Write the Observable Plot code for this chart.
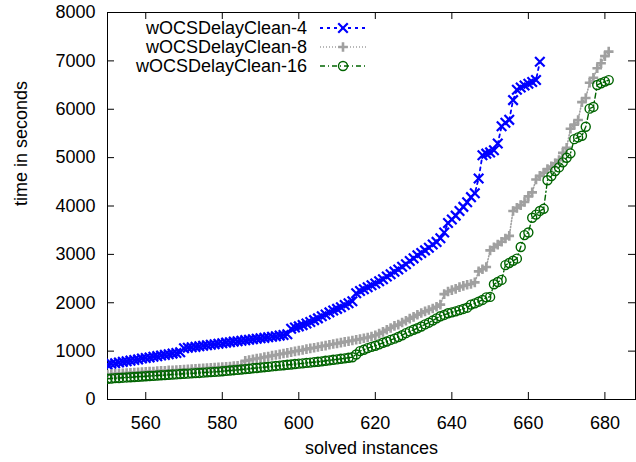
<!DOCTYPE html>
<html><head><meta charset="utf-8">
<script src="https://cdn.jsdelivr.net/npm/d3@7"></script>
<script src="https://cdn.jsdelivr.net/npm/@observablehq/plot@0.6"></script>
<style>body{margin:0;background:#fff} #chart{width:636px;height:462px}</style>
</head><body><div id="chart"></div>
<script>
const seriesNames = ["wOCSDelayClean-4", "wOCSDelayClean-8", "wOCSDelayClean-16"];
const seriesStart = [550, 550, 550];
const delayClean4 = [
  720, 738, 749, 766, 778, 792, 803, 818, 829, 846, 858, 869, 884, 896, 908, 922, 935, 948, 962, 978,
  1058, 1068, 1080, 1088, 1101, 1110, 1122, 1130, 1142, 1151, 1164, 1176, 1183, 1196, 1204, 1216, 1227, 1234, 1246, 1255, 1267, 1274, 1286, 1297, 1306, 1321, 1334, 1350,
  1462, 1488, 1512, 1538, 1572, 1603, 1641, 1677, 1722, 1758, 1801, 1838, 1873, 1908, 1952, 1988, 2032,
  2198, 2243, 2278, 2322, 2361, 2398, 2446, 2487, 2541, 2588, 2643, 2686, 2744, 2797, 2862, 2918,
  2982, 3028, 3083, 3138, 3204, 3258, 3332, 3452, 3648, 3722, 3801, 3897, 3982, 4076, 4183, 4262, 4568,
  5048, 5082, 5108, 5152, 5291, 5648, 5722, 5781, 6189, 6402, 6448, 6491, 6528, 6562, 6603, 6982
];
const delayClean8 = [
  518, 524, 531, 534, 541, 546, 551, 556, 562, 566, 571, 576, 579, 586, 591, 594, 601, 606, 609, 616, 621, 624, 631, 636, 639, 646, 651, 654, 661, 666, 669, 676, 681, 689, 698, 706,
  801, 814, 831, 846, 859, 876, 889, 906, 921, 934, 951, 964, 979, 996, 1011, 1024, 1041, 1056, 1069, 1086, 1101, 1114, 1131, 1146, 1159, 1176, 1191, 1204,
  1219, 1236, 1249, 1266, 1281, 1302, 1328, 1362, 1398, 1442, 1479, 1521, 1548, 1592, 1628, 1671, 1708, 1752, 1788, 1822, 1849, 1882, 1918, 1962,
  2178, 2232, 2261, 2288, 2322, 2349, 2371, 2388, 2421, 2648, 2692, 2738, 3082, 3148, 3202, 3261, 3328, 3382, 3898, 3962, 4018, 4082, 4198, 4282, 4548, 4622, 4688, 4762, 4818, 4882, 4948, 5098, 5202, 5598, 5682, 5778, 6148, 6232, 6548, 6652, 6848, 6952, 7098, 7192
];
const delayClean16 = [
  428, 434, 441, 444, 451, 456, 459, 466, 471, 474, 481, 486, 489, 496, 501, 504, 511, 516, 519, 526, 531, 534, 541, 546, 549, 556, 561, 566, 571, 577, 584, 591, 599,
  606, 612, 621, 628, 636, 646, 652, 661, 668, 678, 684, 694, 701, 708, 718, 724, 733, 741,
  747, 757, 763, 773, 781, 789, 801, 809, 821, 829, 842, 851, 863, 874, 931,
  1001, 1028, 1062, 1088, 1112, 1139, 1172, 1198, 1232, 1258, 1292, 1328, 1372, 1408, 1441, 1472, 1508, 1552, 1588, 1632, 1678, 1722, 1748, 1782, 1802,
  1822, 1848, 1872, 1898, 1962, 1988, 2022, 2058, 2112, 2121, 2382, 2428, 2472, 2778, 2822, 2868, 2912, 3152, 3398, 3452, 3758, 3822, 3898, 3942, 4532, 4618, 4722, 4798, 4902, 4998, 5088, 5382, 5418, 5452, 5638, 6012, 6048, 6502, 6538, 6572, 6603
];
const xTicks = [560, 580, 600, 620, 640, 660, 680];
const yTicks = [0, 1000, 2000, 3000, 4000, 5000, 6000, 7000, 8000];
const xDomain = [550, 688];
const yDomain = [0, 8000];

const seriesValues = [delayClean4, delayClean8, delayClean16];
const seriesColors = ["#0000ff", "#a0a0a0", "#006400"];
const seriesSymbols = ["times", "plus", "circle"];
const seriesDash = ["3,4", "1,2", "5,3,1,3"];
const seriesR = [4.4, 3.2, 4.5];
const seriesSW = [2.2, 2.6, 1.4];
const seriesLineW = [1.8, 1.6, 1.4];

const rows = seriesValues.map((vals, s) => vals.map((v, i) => ({s, x: seriesStart[s] + i, y: v})));

const font = "'Liberation Sans', Arial, sans-serif";
const marks = [Plot.frame({stroke: "black", strokeWidth: 1})];
// inward tick marks (bottom/top/left/right)
marks.push(Plot.ruleX(xTicks, {x: d => d, y1: yDomain[0], y2: yDomain[0], insetBottom: 7, stroke: "black"}));
marks.push(Plot.ruleX(xTicks, {x: d => d, y1: yDomain[1], y2: yDomain[1], insetBottom: -7, stroke: "black"}));
marks.push(Plot.ruleY(yTicks.slice(1, -1), {y: d => d, x1: xDomain[0], x2: xDomain[0], insetRight: -7, stroke: "black"}));
marks.push(Plot.ruleY(yTicks.slice(1, -1), {y: d => d, x1: xDomain[1], x2: xDomain[1], insetRight: 7, stroke: "black"}));
rows.forEach((data, s) => {
  marks.push(Plot.line(data, {x: "x", y: "y", stroke: seriesColors[s], strokeWidth: seriesLineW[s], strokeDasharray: seriesDash[s], clip: true}));
  marks.push(Plot.dot(data, {x: "x", y: "y", symbol: seriesSymbols[s], r: seriesR[s], stroke: seriesColors[s], strokeWidth: seriesSW[s], fill: "none", clip: true}));
});
marks.push(Plot.axisX({ticks: xTicks, tickSize: 0, tickPadding: 17, tickFormat: d => String(d), label: null, fontSize: 18}));
marks.push(Plot.axisY({ticks: yTicks, tickSize: 0, tickPadding: 12, tickFormat: d => String(d), label: null, fontSize: 18}));
marks.push(Plot.text(["solved instances"], {frameAnchor: "bottom", dy: 54, fontSize: 18, fill: "black"}));
marks.push(Plot.text(["time in seconds"], {frameAnchor: "left", dx: -86, rotate: -90, fontSize: 18, fill: "black"}));

const svg = Plot.plot({
  width: 636, height: 462,
  marginLeft: 107, marginRight: 1, marginTop: 12, marginBottom: 63,
  style: {fontFamily: font, fontSize: "18px", color: "black", background: "white", overflow: "visible"},
  x: {domain: xDomain},
  y: {domain: yDomain},
  marks
});

// legend inside the frame, top-left
const lg = d3.select(svg).append("g").attr("font-family", font).attr("font-size", 18);
seriesNames.forEach((name, s) => {
  const cy = 28 + s * 19;
  lg.append("text").attr("x", 307).attr("y", cy).attr("dy", "0.35em").attr("text-anchor", "end").attr("fill", "black").text(name);
  lg.append("line").attr("x1", 320).attr("x2", 366).attr("y1", cy).attr("y2", cy)
    .attr("stroke", seriesColors[s]).attr("stroke-width", seriesLineW[s]).attr("stroke-dasharray", seriesDash[s]);
  const sym = {times: d3.symbolTimes, plus: d3.symbolPlus, circle: d3.symbolCircle}[seriesSymbols[s]];
  lg.append("path").attr("transform", `translate(343,${cy})`)
    .attr("d", d3.symbol(sym, seriesR[s] * seriesR[s] * Math.PI)())
    .attr("fill", "none").attr("stroke", seriesColors[s]).attr("stroke-width", seriesSW[s]);
});
document.getElementById("chart").appendChild(svg);
</script>
</body></html>
